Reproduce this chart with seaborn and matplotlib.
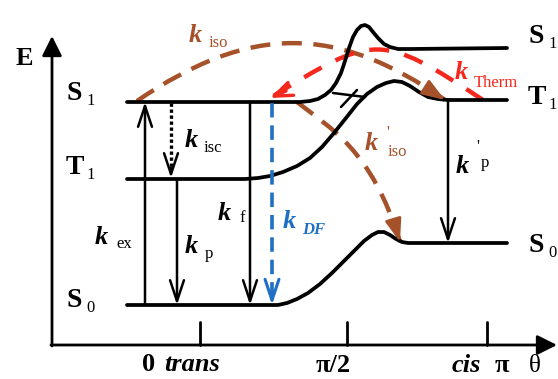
import matplotlib
matplotlib.use("Agg")
import matplotlib.pyplot as plt
import seaborn as sns
from matplotlib.patches import PathPatch
from matplotlib.path import Path

sns.set_theme(style="white")
plt.rcParams["font.family"] = ["Liberation Serif", "DejaVu Serif"]

BROWN = "#A5522B"
RED = "#F5281E"
BLUE = "#1F6FC5"

# potential energy curves along the twist angle (diagram units, y grows downward)
s0_x = [127, 270, 278, 287, 297, 308, 320, 332, 344, 355, 364, 372, 378, 384, 390, 396, 402, 408, 507]
s0_y = [305, 305, 305, 303, 299, 293, 284, 273, 261, 250, 241, 235, 232, 232, 235, 239, 242, 243, 243]
t1_x = [127, 245, 258, 270, 283, 297, 310, 322, 334, 346, 357, 367, 377, 386, 394, 402, 410, 419, 428, 438, 448, 507]
t1_y = [179, 179, 178, 176, 172, 166, 158, 147, 133, 118, 104, 94, 87, 83, 81, 82, 86, 92, 97, 99, 100, 100]
s1_x = [127, 300, 310, 318, 325, 331, 336, 341, 345, 349, 353, 357, 361, 365, 369, 373, 378, 384, 390, 398, 410, 507]
s1_y = [102, 102, 101, 99, 95, 90, 83, 73, 61, 48, 37, 30, 26, 25, 27, 32, 38, 44, 47, 49, 49, 48]

# vertical transitions: x, start y, end y
k_ex = [145, 305, 102]
k_isc = [171, 103, 178]
k_p = [177, 180, 305]
k_f = [250, 102, 305]
k_df = [272, 103, 305]
k_p2 = [448, 100, 243]

# curved transfers: cubic bezier nodes (start, ctrl, ctrl, end)
k_iso_path = [(137, 101), (250, 24), (336, 24), (445, 100)]
k_therm_path = [(483, 100), (380, 32), (374, 34), (270, 98)]
k_iso2_path = [(297, 102), (330, 128), (372, 150), (400, 242)]

# axis ticks
tick_x = [200, 347, 487]

fig = plt.figure(figsize=(5.58, 3.79), dpi=100)
ax = fig.add_axes([0, 0, 1, 1])

for cx, cy in [(s0_x, s0_y), (t1_x, t1_y), (s1_x, s1_y)]:
    sns.lineplot(x=cx, y=cy, ax=ax, color="black", lw=2.7, sort=False,
                 estimator=None, solid_joinstyle="round")

ax.set_xlim(0, 558)
ax.set_ylim(379, 0)
ax.axis("off")

# axes
axprops = dict(arrowstyle="-|>,head_length=1.2,head_width=0.6", lw=2, color="black",
               shrinkA=0, shrinkB=0, mutation_scale=10)
ax.annotate("", xy=(52, 36), xytext=(52, 346), arrowprops=axprops)
ax.annotate("", xy=(557, 345), xytext=(51, 345), arrowprops=axprops)
for tx in tick_x:
    ax.plot([tx, tx], [322, 345], color="black", lw=2)

# crossing between S1 and T1
ax.plot([333, 365], [93, 97], color="black", lw=1.8)
ax.plot([341, 357], [107, 90], color="black", lw=1.8)

# straight transitions
head = "->,head_length=1.5,head_width=0.5"
solid = dict(arrowstyle=head, lw=1.8, color="black", shrinkA=0, shrinkB=0, mutation_scale=10)
for x, y0, y1 in [k_ex, k_p, k_f, k_p2]:
    ax.annotate("", xy=(x, y1), xytext=(x, y0), arrowprops=solid)

x, y0, y1 = k_isc
ax.plot([x, x], [y0, y1 - 8], color="black", lw=2.4, ls=(0, (1, 0.8)))
ax.annotate("", xy=(x, y1), xytext=(x, y1 - 10), arrowprops=solid)

x, y0, y1 = k_df
ax.plot([x, x], [y0, y1 - 12], color=BLUE, lw=2.6, ls=(0, (4, 2.2)))
ax.annotate("", xy=(x, y1), xytext=(x, y1 - 14),
            arrowprops=dict(solid, color=BLUE, lw=2.2))

# curved transfers
codes = [Path.MOVETO, Path.CURVE4, Path.CURVE4, Path.CURVE4]
for pts, col, dash in [(k_iso_path, BROWN, (0, (4.5, 2.6))),
                       (k_therm_path, RED, (0, (4.5, 3.5))),
                       (k_iso2_path, BROWN, (0, (4.5, 2.6)))]:
    ax.add_patch(PathPatch(Path(pts, codes), fill=False, edgecolor=col, lw=3.2,
                           ls=dash, capstyle="butt"))

ax.annotate("", xy=k_iso_path[3], xytext=(428, 89),
            arrowprops=dict(arrowstyle="-|>,head_length=1.4,head_width=0.5", lw=2,
                            color=BROWN, shrinkA=0, shrinkB=0, mutation_scale=10))
ax.annotate("", xy=k_iso2_path[3], xytext=(394, 222),
            arrowprops=dict(arrowstyle="-|>,head_length=1.4,head_width=0.5", lw=2,
                            color=BROWN, shrinkA=0, shrinkB=0, mutation_scale=10))
ax.annotate("", xy=k_therm_path[3], xytext=(286, 91),
            arrowprops=dict(arrowstyle="->,head_length=1.3,head_width=0.5", lw=2.4,
                            color=RED, shrinkA=0, shrinkB=0, mutation_scale=10))


def put(x, y, s, size, weight="normal", style="normal", color="black"):
    ax.text(x, y, s, fontsize=size, fontweight=weight, fontstyle=style,
            color=color, ha="left", va="baseline")


# energy axis and state labels
put(16, 65, "E", 19, "bold")
for sx, sy, s, sub in [(66, 100, "S", "1"), (66, 174, "T", "1"), (66, 307, "S", "0"),
                       (528, 43, "S", "1"), (528, 104, "T", "1"), (528, 252, "S", "0")]:
    put(sx, sy, s, 20, "bold")
    put(sx + 20, sy + 5, sub, 12)

# rate labels
for kx, ky, sub, sx, sy, col, subw, subst in [
        (189, 42, "iso", 209, 47, BROWN, "normal", "normal"),
        (185, 147, "isc", 204, 152, "black", "normal", "normal"),
        (95, 244, "ex", 116, 248, "black", "normal", "normal"),
        (185, 253, "p", 205, 258, "black", "normal", "normal"),
        (218, 220, "f", 239, 222, "black", "normal", "normal"),
        (283, 228, "DF", 302, 234, BLUE, "bold", "italic"),
        (365, 150, "iso", 388, 156, BROWN, "normal", "normal"),
        (456, 173, "p", 481, 167, "black", "normal", "normal"),
        (455, 79, "Therm", 474, 87, RED, "normal", "normal")]:
    put(kx, ky, "k", 19, "bold", "italic", col)
    put(sx, sy, sub, 12, subw, subst, col)
put(386, 137, "'", 12, color=BROWN)
put(476, 151, "'", 12)

# angle labels
put(142, 371, "0", 19, "bold")
put(164, 371, "trans", 19, "bold", "italic")
put(316, 372, "π/2", 19, "bold")
put(452, 372, "cis", 19, "bold", "italic")
put(495, 372, "π", 19, "bold")
put(529, 372, "θ", 18)

fig.savefig("out.png", dpi=100)
